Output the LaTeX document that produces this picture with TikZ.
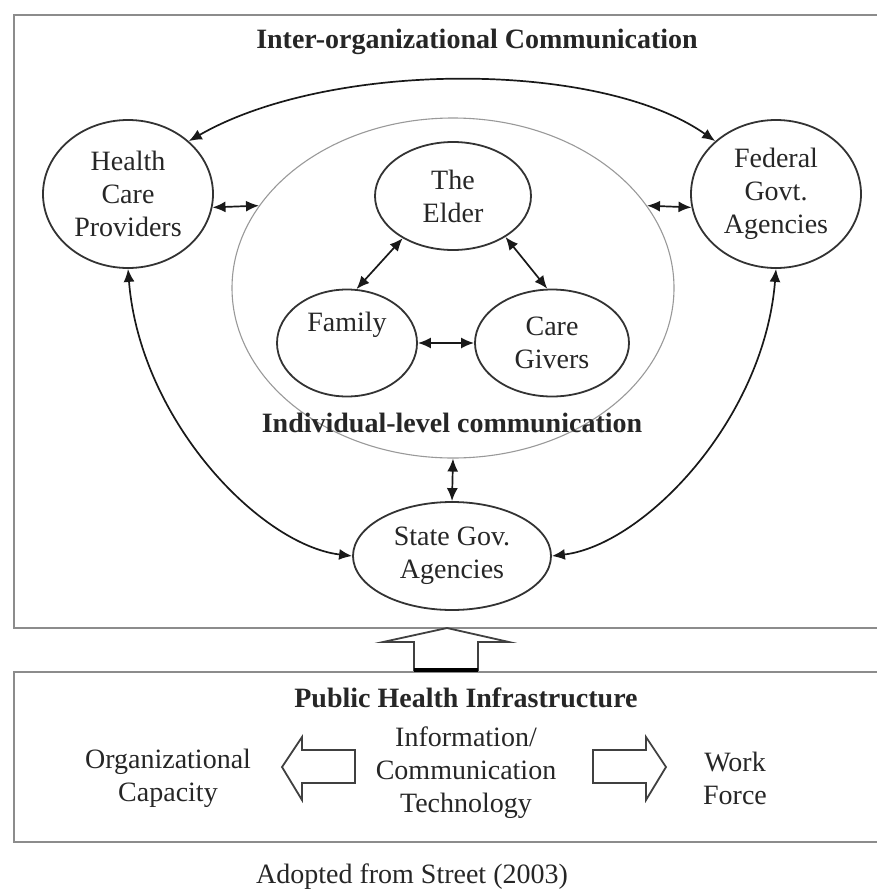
\documentclass[tikz,border=0pt]{standalone}
\usepackage{fontspec}
\setmainfont{Liberation Serif}
\usetikzlibrary{arrows.meta,shapes.geometric}
\tikzset{
  txt/.style={font=\fontsize{28}{33}\selectfont, text=black!85, align=center, inner sep=0pt},
  hd/.style={txt, font=\fontsize{28}{33}\selectfont\bfseries},
  ell/.style={ellipse, draw=black!80, line width=1.8pt, txt},
  frame/.style={draw=black!45, line width=2.5pt},
  tip/.style={Latex[length=13pt,width=11pt]},
  link/.style={draw=black!90, line width=1.7pt, {Latex[length=13pt,width=11pt]}-{Latex[length=13pt,width=11pt]}},
  blockarrow/.style={draw=black!75, line width=1.8pt, fill=white, line join=miter},
}
\begin{document}
\begin{tikzpicture}[x=1pt, y=-1pt]
\useasboundingbox (0,0) rectangle (877,889);

% frames
\draw[frame] (14,15) rectangle (900,628);
\draw[frame] (14,672) rectangle (900,842);

% inter-organizational level
\node[hd] (title) at (477,42) {Inter-organizational Communication};
\node[ell, minimum width=170pt, minimum height=148pt] (hcp) at (128,194) {Health\\Care\\Providers};
\node[ell, minimum width=170pt, minimum height=148pt] (fga) at (776,194) {Federal\\Govt.\\Agencies};
\node[ell, minimum width=198pt, minimum height=108pt] (state) at (452,556) {State Gov.\\Agencies};

% individual level
\node[ellipse, draw=black!40, line width=1.1pt, minimum width=442pt, minimum height=340pt] (inner) at (453,288) {};
\node[ell, minimum width=156pt, minimum height=108pt] (elder) at (453,196) {The\\Elder};
\node[ell, minimum width=140pt, minimum height=107pt,
      label={[txt, yshift=18pt]center:Family}] (family) at (347,343) {};
\node[ell, minimum width=154pt, minimum height=107pt] (care) at (552,343) {Care\\Givers};
\node[hd] (indiv) at (452,423) {Individual-level communication};

% connectors
\draw[link] (hcp.41) .. controls (330,60) and (600,60) .. (fga.139);
\draw[link] (hcp.-9) -- (inner.157);
\draw[link] (inner.23) -- (fga.189);
\draw[link] (elder.220) -- (family.80);
\draw[link] (elder.-38) -- (care.95);
\draw[link] (family.east) -- (care.west);
\draw[link] (inner.south) -- (state.north);
\draw[link] (hcp.south) .. controls (140,420) and (260,545) .. (state.west);
\draw[link] (fga.south) .. controls (764,420) and (644,545) .. (state.east);

% infrastructure feeding upward
\draw[blockarrow] (414,670) -- (414,642) -- (383,642) -- (447,628) -- (509,642)
  -- (478,642) -- (478,670) -- cycle;
\draw[black, line width=3.5pt] (414,670) -- (478,670);

% public health infrastructure
\node[hd] (phi) at (466,698) {Public Health Infrastructure};
\node[txt] (org) at (168,778) {Organizational\\Capacity};
\node[txt] (ict) at (466,773) {Information/\\Communication\\Technology};
\node[txt] (work) at (735,778) {Work\\Force};
\draw[blockarrow] (355,750) -- (302,750) -- (302,737) -- (282,767) -- (302,800)
  -- (302,783) -- (355,783) -- cycle;
\draw[blockarrow] (593,750) -- (646,750) -- (646,737) -- (666,767) -- (646,800)
  -- (646,783) -- (593,783) -- cycle;

\node[txt] (src) at (412,877) {Adopted from Street (2003)};
\end{tikzpicture}
\end{document}
